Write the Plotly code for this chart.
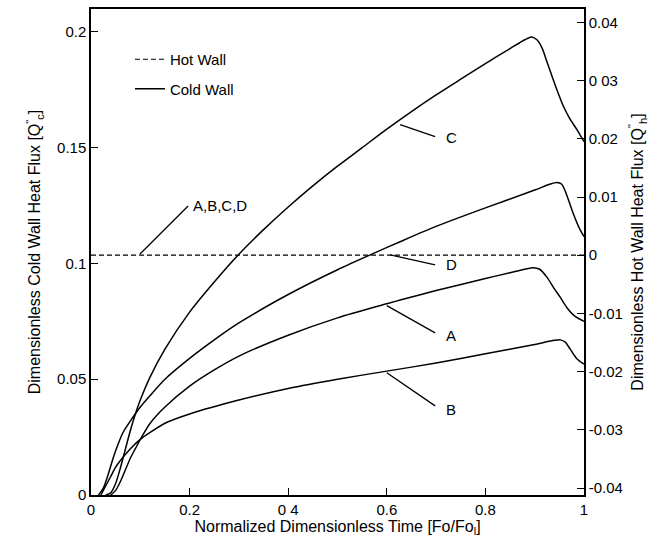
import plotly.graph_objects as go

# ---- data ----
xC = [0.03, 0.04, 0.05, 0.06, 0.07, 0.08, 0.09, 0.10, 0.12, 0.15, 0.20, 0.25, 0.30, 0.35, 0.40, 0.45, 0.50,
      0.55, 0.60, 0.65, 0.70, 0.75, 0.80, 0.85, 0.88, 0.894, 0.905, 0.915, 0.925, 0.935, 0.945, 0.958, 0.97, 0.985, 1.00]
yC = [0.000, 0.001, 0.005, 0.012, 0.020, 0.028, 0.035, 0.041, 0.051, 0.063, 0.079, 0.092, 0.104, 0.1146, 0.1244, 0.1335, 0.142,
      0.150, 0.158, 0.1656, 0.1728, 0.1796, 0.1863, 0.1928, 0.1966, 0.1978, 0.1965, 0.193, 0.187, 0.181, 0.175, 0.168, 0.163, 0.158, 0.1526]

xD = [0.015, 0.025, 0.035, 0.045, 0.055, 0.065, 0.08, 0.10, 0.12, 0.15, 0.20, 0.25, 0.30, 0.40, 0.50, 0.58, 0.627, 0.70,
      0.80, 0.90, 0.93, 0.945, 0.955, 0.961, 0.97, 0.978, 0.99, 1.00]
yD = [0.000, 0.003, 0.009, 0.016, 0.022, 0.027, 0.032, 0.038, 0.043, 0.050, 0.059, 0.067, 0.0743, 0.0866, 0.0973, 0.105, 0.1094, 0.116,
      0.124, 0.1317, 0.1342, 0.135, 0.1342, 0.1317, 0.1265, 0.1217, 0.1155, 0.1116]

xA = [0.04, 0.05, 0.06, 0.07, 0.08, 0.09, 0.10, 0.12, 0.15, 0.20, 0.25, 0.30, 0.40, 0.50, 0.60, 0.627, 0.70, 0.80, 0.85,
      0.88, 0.897, 0.91, 0.925, 0.94, 0.951, 0.965, 0.98, 1.00]
yA = [0.000, 0.002, 0.006, 0.011, 0.016, 0.020, 0.024, 0.031, 0.038, 0.047, 0.054, 0.060, 0.069, 0.0765, 0.0826, 0.0842, 0.0883, 0.0935, 0.096,
      0.0975, 0.0982, 0.0975, 0.094, 0.089, 0.0857, 0.081, 0.0775, 0.075]

xB = [0.02, 0.03, 0.04, 0.05, 0.06, 0.08, 0.10, 0.12, 0.15, 0.20, 0.30, 0.40, 0.50, 0.60, 0.70, 0.80, 0.90,
      0.94, 0.952, 0.962, 0.972, 0.985, 1.00]
yB = [0.000, 0.004, 0.008, 0.012, 0.015, 0.020, 0.024, 0.027, 0.031, 0.035, 0.041, 0.046, 0.050, 0.0535, 0.057, 0.061, 0.065,
      0.0668, 0.067, 0.066, 0.063, 0.059, 0.0565]

x_hot = [0.0, 1.0]
y_hot = [0.0, 0.0]

x_ticks = [0, 0.2, 0.4, 0.6, 0.8, 1.0]
x_ticktext = ["0", "0.2", "0 4", "0.6", "0.8", "1"]
yl_ticks = [0, 0.05, 0.1, 0.15, 0.2]
yl_ticktext = ["0", "0.05", "0.1", "0.15", "0.2"]
yr_ticks = [-0.04, -0.03, -0.02, -0.01, 0, 0.01, 0.02, 0.03, 0.04]
yr_ticktext = ["-0.04", "-0.03", "-0.02", "-0.01", "0", "0.01", "0.02", "0 03", "0.04"]

FONT = "Liberation Sans, Arial, Helvetica, sans-serif"
LW = 1.5

fig = go.Figure()
fig.add_trace(go.Scatter(x=x_hot, y=y_hot, yaxis="y2", mode="lines", name="Hot Wall",
                         line=dict(color="black", width=1.2, dash="5px,3px"),
                         legendgroup="h", showlegend=True))
for i, (xs, ys) in enumerate([(xA, yA), (xB, yB), (xC, yC), (xD, yD)]):
    fig.add_trace(go.Scatter(x=xs, y=ys, mode="lines", name="Cold Wall",
                             line=dict(color="black", width=LW, shape="spline", smoothing=0.8),
                             legendgroup="c", showlegend=(i == 0)))

# curve labels with leader lines (data coords)
labels = [
    ("C", 0.716, 0.1546, 0.627, 0.1600, 0.698, 0.1548),
    ("D", 0.716, 0.0994, 0.607, 0.1037, 0.698, 0.0994),
    ("A", 0.716, 0.0690, 0.600, 0.0818, 0.698, 0.0700),
    ("B", 0.716, 0.0370, 0.600, 0.0528, 0.698, 0.0385),
]
for t, tx, ty, x0, y0, x1, y1 in labels:
    fig.add_shape(type="line", x0=x0, y0=y0, x1=x1, y1=y1, xref="x", yref="y",
                  line=dict(color="black", width=1.3))
    fig.add_annotation(x=tx, y=ty, xref="x", yref="y", text=t, showarrow=False,
                       xanchor="left", yanchor="middle", font=dict(size=15, color="black", family=FONT))
fig.add_shape(type="line", x0=0.0994, y0=0.1041, x1=0.197, y1=0.1248, xref="x", yref="y",
              line=dict(color="black", width=1.3))
fig.add_annotation(x=0.203, y=0.1250, xref="x", yref="y", text="A,B,C,D", showarrow=False,
                   xanchor="left", yanchor="middle", font=dict(size=15, color="black", family=FONT))

axis_common = dict(showgrid=False, zeroline=False, showline=True, linecolor="black", linewidth=1.5,
                   ticks="inside", ticklen=7, tickwidth=1.3, tickcolor="black",
                   tickfont=dict(size=15, color="black", family=FONT))

fig.update_layout(
    width=672, height=552,
    margin=dict(l=91, r=88, t=9, b=57, autoexpand=False),
    paper_bgcolor="white", plot_bgcolor="white",
    font=dict(family=FONT, size=15, color="black"),
    xaxis=dict(range=[0, 1], tickvals=x_ticks, ticktext=x_ticktext, mirror=True,
               title=dict(text="Normalized Dimensionless Time [Fo/Fo<sub>l</sub>]", standoff=4,
                          font=dict(size=16, family=FONT)), **axis_common),
    yaxis=dict(range=[0, 0.2099], tickvals=yl_ticks, ticktext=yl_ticktext,
               title=dict(text="Dimensionless Cold Wall Heat Flux [Q<sup>\"</sup><sub>c</sub>]", standoff=12,
                          font=dict(size=16, family=FONT)), **axis_common),
    yaxis2=dict(range=[-0.0412, 0.0423], overlaying="y", side="right", tickvals=yr_ticks, ticktext=yr_ticktext,
                title=dict(text="Dimensionless Hot Wall Heat Flux [Q<sup>\"</sup><sub>h</sub>]", standoff=10,
                           font=dict(size=16, family=FONT)), **axis_common),
    legend=dict(x=0.079, y=0.93, xanchor="left", yanchor="top", bgcolor="rgba(0,0,0,0)",
                borderwidth=0, font=dict(size=15, family=FONT, color="black"),
                traceorder="grouped", tracegroupgap=7, itemwidth=30),
    showlegend=True,
)

fig.write_html("out.html")
